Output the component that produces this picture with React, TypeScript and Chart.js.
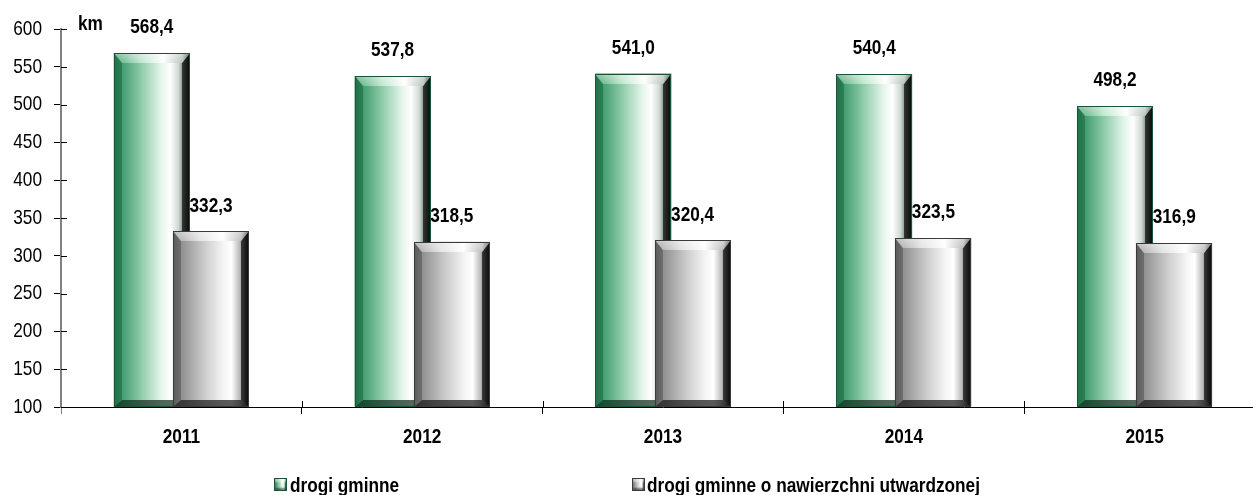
import React, { useEffect, useRef } from 'react';
import { Chart, registerables } from 'chart.js';

Chart.register(...registerables);

const categories = ['2011', '2012', '2013', '2014', '2015'];
const drogiGminne = [568.4, 537.8, 541.0, 540.4, 498.2];
const drogiUtwardzone = [332.3, 318.5, 320.4, 323.5, 316.9];
const seriesNames = ['drogi gminne', 'drogi gminne o nawierzchni utwardzonej'];
const yMin = 100;
const yMax = 600;
const yStep = 50;
const unitLabel = 'km';

const FONT = '"Liberation Sans", Arial, sans-serif';
const SX = 0.82; // horizontal condensing to imitate a narrow face

type Stop = [number, string];
interface Palette {
  body: Stop[];
  top: Stop[];
  left: string;
  right: string;
  bottom: string;
  outline: string;
}

const greenPal: Palette = {
  body: [[0, '#2a8456'], [0.08, '#3a9868'], [0.35, '#8ccaa8'], [0.62, '#e4f5eb'], [0.74, '#ffffff'], [0.85, '#cfd8d3'], [0.94, '#56665e'], [1, '#0f231a']],
  top: [[0, '#4fa87a'], [0.35, '#bfe6cf'], [0.65, '#ffffff'], [0.9, '#b9c4be'], [1, '#30463a']],
  left: 'rgba(20,90,55,0.45)',
  right: 'rgba(0,0,0,0.65)',
  bottom: 'rgba(10,40,25,0.7)',
  outline: '#1c5236',
};

const grayPal: Palette = {
  body: [[0, '#707070'], [0.1, '#8e8e8e'], [0.4, '#c9c9c9'], [0.66, '#f4f4f4'], [0.77, '#ffffff'], [0.88, '#b8b8b8'], [0.96, '#4c4c4c'], [1, '#1e1e1e']],
  top: [[0, '#a4a4a4'], [0.35, '#e4e4e4'], [0.65, '#ffffff'], [0.9, '#bdbdbd'], [1, '#444444']],
  left: 'rgba(60,60,60,0.4)',
  right: 'rgba(0,0,0,0.65)',
  bottom: 'rgba(20,20,20,0.7)',
  outline: '#3a3a3a',
};

function grad(ctx: CanvasRenderingContext2D, x0: number, y0: number, x1: number, y1: number, stops: Stop[]) {
  const g = ctx.createLinearGradient(x0, y0, x1, y1);
  stops.forEach(([s, c]) => g.addColorStop(s, c));
  return g;
}

function poly(ctx: CanvasRenderingContext2D, pts: number[][], fill: any) {
  ctx.beginPath();
  ctx.moveTo(pts[0][0], pts[0][1]);
  for (let i = 1; i < pts.length; i++) ctx.lineTo(pts[i][0], pts[i][1]);
  ctx.closePath();
  ctx.fillStyle = fill;
  ctx.fill();
}

function paintBevel(ctx: CanvasRenderingContext2D, l: number, t: number, r: number, b: number, pal: Palette) {
  const w = r - l;
  const h = b - t;
  if (w <= 0 || h <= 0) return;
  const bt = Math.min(10, h / 4);
  const bs = Math.min(8, w / 6);
  const bb = Math.min(7, h / 4);
  ctx.fillStyle = grad(ctx, l, 0, r, 0, pal.body);
  ctx.fillRect(l, t, w, h);
  poly(ctx, [[l, t], [l + bs, t + bt], [l + bs, b - bb], [l, b]], pal.left);
  poly(ctx, [[r, t], [r, b], [r - bs, b - bb], [r - bs, t + bt]], pal.right);
  poly(ctx, [[l, b], [l + bs, b - bb], [r - bs, b - bb], [r, b]], pal.bottom);
  poly(ctx, [[l, t], [r, t], [r - bs, t + bt], [l + bs, t + bt]], grad(ctx, l, 0, r, 0, pal.top));
  poly(ctx, [[l, t], [r, t], [r - bs, t + bt], [l + bs, t + bt]], grad(ctx, 0, t, 0, t + bt, [[0, 'rgba(255,255,255,0.35)'], [1, 'rgba(255,255,255,0)']]));
  ctx.strokeStyle = pal.outline;
  ctx.lineWidth = 1;
  ctx.strokeRect(l + 0.5, t + 0.5, w - 1, h - 1);
}

function text(ctx: CanvasRenderingContext2D, s: string, x: number, y: number, align: CanvasTextAlign) {
  ctx.save();
  ctx.translate(x, y);
  ctx.scale(SX, 1);
  ctx.textAlign = align;
  ctx.fillText(s, 0, 0);
  ctx.restore();
}

const bevelPlugin = {
  id: 'bevelBars',
  afterDatasetsDraw(chart: any) {
    const ctx: CanvasRenderingContext2D = chart.ctx;
    const area = chart.chartArea;
    const pals = [greenPal, grayPal];
    ctx.save();
    chart.data.datasets.forEach((_ds: any, di: number) => {
      const meta = chart.getDatasetMeta(di);
      meta.data.forEach((el: any) => {
        const { x, y, base, width } = el.getProps(['x', 'y', 'base', 'width'], true);
        paintBevel(ctx, Math.round(x - width / 2), Math.round(y), Math.round(x + width / 2), Math.round(base), pals[di]);
      });
    });
    ctx.strokeStyle = '#000';
    ctx.lineWidth = 1;
    const ys = chart.scales.y;
    const xs = chart.scales.x;
    ys.ticks.forEach((_t: any, i: number) => {
      const py = Math.round(ys.getPixelForTick(i)) + 0.5;
      ctx.beginPath();
      ctx.moveTo(area.left, py);
      ctx.lineTo(area.left + 6, py);
      ctx.stroke();
    });
    for (let i = 1; i < categories.length; i++) {
      const px = Math.round((xs.getPixelForTick(i - 1) + xs.getPixelForTick(i)) / 2) + 0.5;
      ctx.beginPath();
      ctx.moveTo(px, area.bottom - 6);
      ctx.lineTo(px, area.bottom);
      ctx.stroke();
    }
    ctx.fillStyle = '#000';
    ctx.font = `21px ${FONT}`;
    ctx.textBaseline = 'middle';
    ys.ticks.forEach((t: any, i: number) => {
      text(ctx, String(t.value), area.left - 19, ys.getPixelForTick(i), 'right');
    });
    ctx.font = `bold 21px ${FONT}`;
    categories.forEach((c, i) => {
      text(ctx, c, xs.getPixelForTick(i), area.bottom + 30, 'center');
    });
    ctx.textBaseline = 'bottom';
    chart.data.datasets.forEach((ds: any, di: number) => {
      const meta = chart.getDatasetMeta(di);
      meta.data.forEach((el: any, i: number) => {
        const v = ds.data[i] as number;
        text(ctx, v.toFixed(1).replace('.', ','), el.x, el.y - 15, 'center');
      });
    });
    ctx.textBaseline = 'alphabetic';
    text(ctx, unitLabel, area.left + 17, area.top + 1, 'left');
    ctx.restore();
  },
};

function LegendBox({ pal }: { pal: Palette }) {
  const stops = pal.body.map(([s, c]) => `${c} ${s * 100}%`).join(', ');
  return (
    <span
      style={{
        display: 'inline-block',
        width: 13,
        height: 13,
        background: `linear-gradient(to right, ${stops})`,
        boxShadow: `inset 0 3px 2px rgba(255,255,255,0.5), inset 0 -2px 2px rgba(0,0,0,0.5)`,
        border: `1px solid ${pal.outline}`,
        boxSizing: 'border-box',
      }}
    />
  );
}

export default function App() {
  const ref = useRef<HTMLCanvasElement>(null);
  useEffect(() => {
    if (!ref.current) return;
    const chart = new Chart(ref.current, {
      type: 'bar',
      data: {
        labels: categories,
        datasets: [
          { label: seriesNames[0], data: drogiGminne, base: yMin, backgroundColor: '#3a9868', categoryPercentage: 0.492, barPercentage: 1.284 },
          { label: seriesNames[1], data: drogiUtwardzone, base: yMin, backgroundColor: '#aaaaaa', categoryPercentage: 0.492, barPercentage: 1.284 },
        ],
      },
      options: {
        responsive: false,
        animation: false,
        layout: { padding: { top: 29, right: 0, left: 0, bottom: 0 } },
        plugins: { legend: { display: false }, tooltip: { enabled: false } },
        scales: {
          x: {
            type: 'category',
            offset: true,
            grid: {
              offset: true,
              drawOnChartArea: false,
              tickLength: 7,
              color: (c: any) => (c.index === 0 ? '#808080' : '#000'),
            },
            border: { color: '#000', width: 1 },
            ticks: { display: false },
            afterFit: (s: any) => {
              s.height = 88;
            },
          },
          y: {
            min: yMin,
            max: yMax,
            grid: { drawOnChartArea: false, tickLength: 7, color: '#000' },
            border: { color: '#808080', width: 2 },
            ticks: { stepSize: yStep, display: false },
            afterFit: (s: any) => {
              s.width = 61;
            },
          },
        },
      },
      plugins: [bevelPlugin],
    });
    return () => chart.destroy();
  }, []);

  const legendText: React.CSSProperties = {
    fontFamily: FONT,
    fontWeight: 'bold',
    fontSize: 21,
    lineHeight: '21px',
    color: '#000',
    position: 'absolute',
    top: 474,
    transform: `scaleX(${SX})`,
    transformOrigin: 'left center',
    whiteSpace: 'nowrap',
  };

  return (
    <div style={{ position: 'fixed', left: 0, top: 0, width: 1253, height: 495, overflow: 'hidden', background: '#fff' }}>
      <canvas ref={ref} width={1265} height={495} style={{ display: 'block' }} />
      <div style={{ position: 'absolute', left: 274, top: 478, lineHeight: 0 }}>
        <LegendBox pal={greenPal} />
      </div>
      <div style={{ ...legendText, left: 290 }}>{seriesNames[0]}</div>
      <div style={{ position: 'absolute', left: 632, top: 478, lineHeight: 0 }}>
        <LegendBox pal={grayPal} />
      </div>
      <div style={{ ...legendText, left: 647 }}>{seriesNames[1]}</div>
    </div>
  );
}
